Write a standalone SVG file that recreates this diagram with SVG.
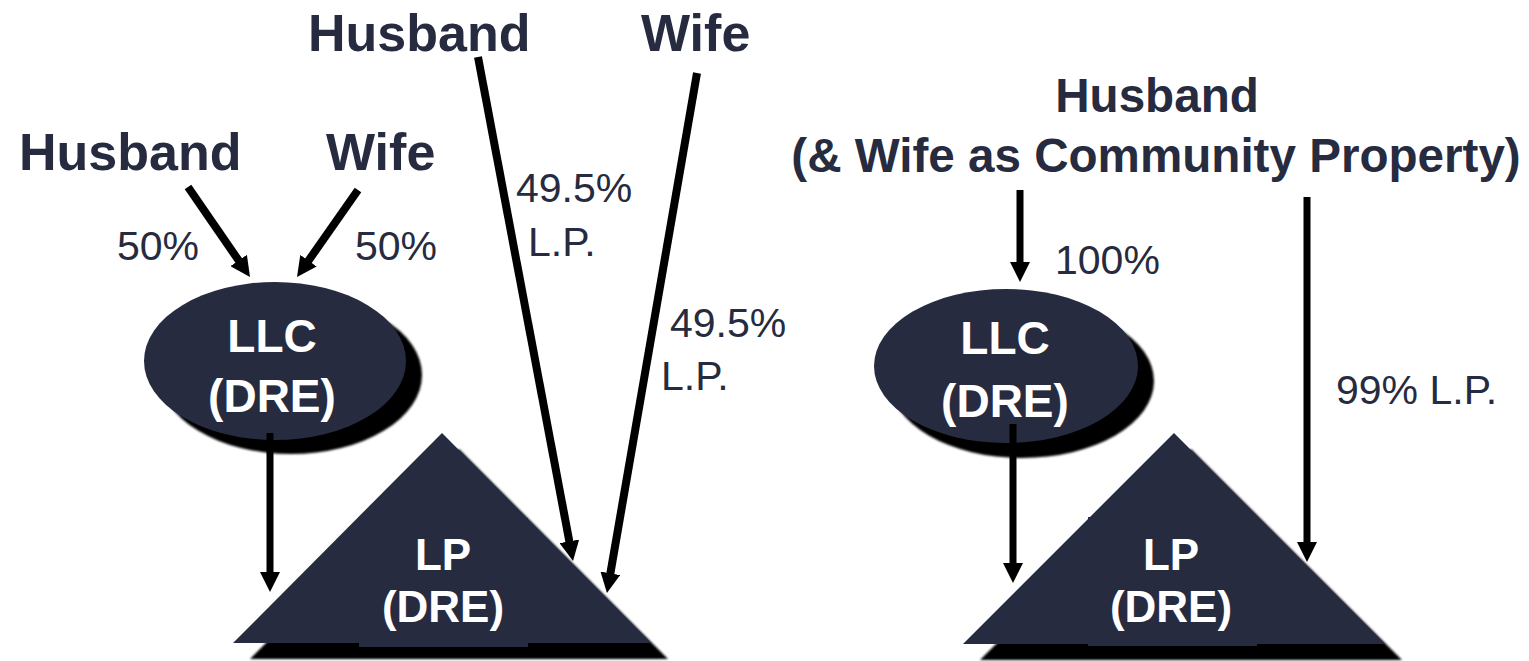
<svg xmlns="http://www.w3.org/2000/svg" width="1529" height="661" viewBox="0 0 1529 661">
  <style>
    .owner { font-family: "Liberation Sans", Arial, sans-serif; font-weight: bold; font-size: 52px; fill: #262b40; }
    .owner-r { font-family: "Liberation Sans", Arial, sans-serif; font-weight: bold; font-size: 47.6px; fill: #262b40; }
    .pct { font-family: "Liberation Sans", Arial, sans-serif; font-size: 41px; fill: #262b40; }
    .node-text { font-family: "Liberation Sans", Arial, sans-serif; font-weight: bold; font-size: 46px; fill: #ffffff; text-anchor: middle; }
    .lp-text { font-family: "Liberation Sans", Arial, sans-serif; font-weight: bold; font-size: 44px; fill: #ffffff; text-anchor: middle; }
    .body { fill: #262b40; }
    .shadow { fill: #000000; filter: url(#soft); }
    .link { stroke: #000000; stroke-width: 8; fill: none; marker-end: url(#head); }
    .link-v { stroke: #000000; stroke-width: 7; fill: none; marker-end: url(#head); }
  </style>
  <defs>
    <filter id="soft" x="-10%" y="-10%" width="120%" height="120%">
      <feGaussianBlur stdDeviation="1.2"/>
    </filter>
    <marker id="head" viewBox="0 0 20 20" refX="8" refY="10" markerWidth="20" markerHeight="20" markerUnits="userSpaceOnUse" orient="auto">
      <path d="M0,0 L20,10 L0,20 Z" fill="#000000"/>
    </marker>
  </defs>

  <rect width="1529" height="661" fill="#ffffff"/>

  <!-- left structure: owners -->
  <g id="husband-top">
    <text class="owner" x="308" y="51">Husband</text>
  </g>
  <g id="wife-top">
    <text class="owner" x="641" y="51">Wife</text>
  </g>
  <g id="husband-left">
    <text class="owner" x="19" y="170">Husband</text>
  </g>
  <g id="wife-left">
    <text class="owner" x="326" y="170">Wife</text>
  </g>

  <!-- left LLC -->
  <g id="llc-left">
    <ellipse class="shadow" cx="291" cy="375" rx="131" ry="79"/>
    <ellipse class="body" cx="275" cy="361" rx="131" ry="79"/>
    <text class="node-text" x="272" y="352">LLC</text>
    <text class="node-text" x="272" y="412">(DRE)</text>
  </g>

  <!-- left LP -->
  <g id="lp-left">
    <polygon class="shadow" points="459,449 250,659 668,659"/>
    <polygon class="body" points="442,433 233,643 651,643"/>
    <rect class="body" x="359" y="518" width="169" height="129"/>
    <text class="lp-text" x="443" y="570">LP</text>
    <text class="lp-text" x="443" y="622">(DRE)</text>
  </g>

  <!-- right structure: owner -->
  <g id="husband-right">
    <text class="owner-r" x="1157" y="112" text-anchor="middle">Husband</text>
    <text class="owner-r" x="1156" y="172" text-anchor="middle">(&amp; Wife as Community Property)</text>
  </g>

  <!-- right LLC -->
  <g id="llc-right">
    <ellipse class="shadow" cx="1022" cy="381" rx="132" ry="77"/>
    <ellipse class="body" cx="1006" cy="366" rx="132" ry="77"/>
    <text class="node-text" x="1005" y="354">LLC</text>
    <text class="node-text" x="1005" y="417">(DRE)</text>
  </g>

  <!-- right LP -->
  <g id="lp-right">
    <polygon class="shadow" points="1191,449 980,660 1402,660"/>
    <polygon class="body" points="1174,433 963,644 1385,644"/>
    <rect class="body" x="1088" y="517" width="169" height="129"/>
    <text class="lp-text" x="1171" y="570">LP</text>
    <text class="lp-text" x="1171" y="622">(DRE)</text>
  </g>

  <!-- ownership connectors -->
  <g id="connectors">
    <line class="link" x1="188" y1="187" x2="243.2" y2="267.1"/>
    <line class="link" x1="358" y1="190" x2="303.9" y2="267.2"/>
    <line class="link-v" x1="270" y1="433" x2="270" y2="580"/>
    <line class="link" x1="478" y1="57" x2="570.8" y2="549.2"/>
    <line class="link" x1="697" y1="73" x2="609.0" y2="581.2"/>
    <line class="link-v" x1="1020" y1="190" x2="1020" y2="270"/>
    <line class="link-v" x1="1013" y1="424" x2="1013" y2="571"/>
    <line class="link-v" x1="1307" y1="197" x2="1307" y2="550"/>
  </g>

  <!-- ownership percentages -->
  <g id="labels">
    <text class="pct" x="117" y="260">50%</text>
    <text class="pct" x="355" y="260">50%</text>
    <text class="pct" x="516" y="202">49.5%</text>
    <text class="pct" x="528" y="256">L.P.</text>
    <text class="pct" x="670" y="337">49.5%</text>
    <text class="pct" x="661" y="390">L.P.</text>
    <text class="pct" x="1055" y="274">100%</text>
    <text class="pct" x="1336" y="404">99% L.P.</text>
  </g>
</svg>
